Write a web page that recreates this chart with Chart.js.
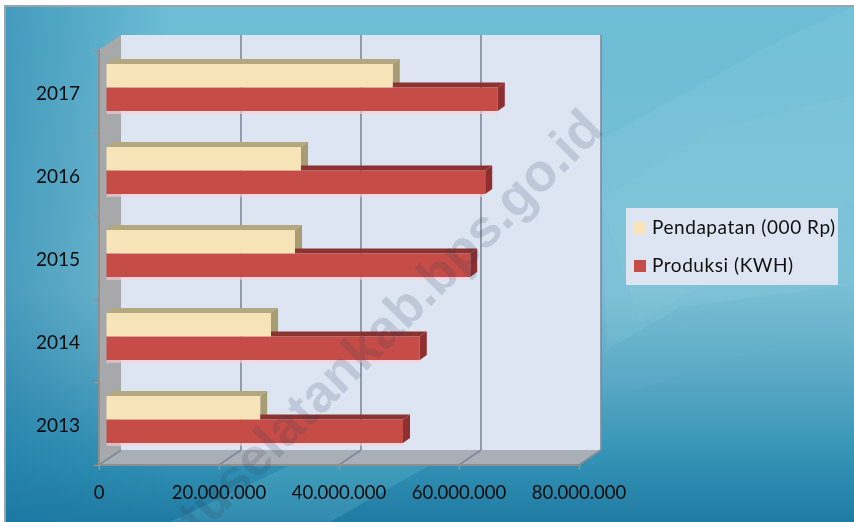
<!DOCTYPE html>
<html>
<head>
<meta charset="utf-8">
<title>Pendapatan dan Produksi</title>
<script src="https://cdn.jsdelivr.net/npm/chart.js@4"></script>
<style>
  html, body { margin: 0; padding: 0; background: #fff; }
  #wrap { position: relative; width: 854px; height: 522px; overflow: hidden; }
</style>
</head>
<body>
<div id="wrap"><canvas id="chart" width="854" height="522"></canvas></div>
<script>
const years = ['2017', '2016', '2015', '2014', '2013'];
const pendapatan = [47800000, 32500000, 31500000, 27500000, 25700000];
const produksi = [65300000, 63200000, 60700000, 52300000, 49500000];
const xTicks = [0, 20000000, 40000000, 60000000, 80000000];
const xTickLabels = ['0', '20.000.000', '40.000.000', '60.000.000', '80.000.000'];
const seriesNames = ['Pendapatan (000 Rp)', 'Produksi (KWH)'];
const watermark = 'tuselatankab.bps.go.id';

const FONT = 'Lato, "Open Sans", sans-serif';

function poly(ctx, pts, fill) {
  ctx.beginPath();
  pts.forEach((p, i) => i ? ctx.lineTo(p[0], p[1]) : ctx.moveTo(p[0], p[1]));
  ctx.closePath();
  ctx.fillStyle = fill;
  ctx.fill();
}

// slide background behind the chart
const slideBg = {
  id: 'slideBg',
  beforeDraw(chart) {
    const { ctx, width: w, height: h } = chart;
    ctx.save();
    ctx.fillStyle = '#fff';
    ctx.fillRect(0, 0, w, h);
    ctx.fillStyle = '#9aa4aa';
    ctx.fillRect(4, 5, w - 4, h - 5);
    ctx.beginPath();
    ctx.rect(6, 7, w - 6, h - 7);
    ctx.clip();
    let g = ctx.createLinearGradient(0, 6, 0, h);
    g.addColorStop(0, '#6cbdd5');
    g.addColorStop(0.55, '#79bfd4');
    g.addColorStop(0.72, '#5aa8c4');
    g.addColorStop(0.88, '#3292b4');
    g.addColorStop(1, '#1f7aa2');
    ctx.fillStyle = g;
    ctx.fillRect(0, 0, w, h);
    g = ctx.createLinearGradient(5, 0, 170, 0);
    g.addColorStop(0, 'rgba(25,120,165,0.5)');
    g.addColorStop(1, 'rgba(25,120,165,0)');
    ctx.fillStyle = g;
    ctx.fillRect(0, 0, 170, h);
    // lighter wedges
    poly(ctx, [[600, 140], [780, 40], [854, 6], [854, 285], [680, 307], [607, 350]], 'rgba(170,225,235,0.12)');
    poly(ctx, [[600, 200], [710, 130], [854, 95], [854, 200], [640, 320]], 'rgba(190,230,235,0.06)');
    poly(ctx, [[603, 400], [853, 320], [854, 260], [603, 350]], 'rgba(120,190,215,0.1)');
    poly(ctx, [[170, 522], [290, 465], [430, 465], [330, 522]], 'rgba(130,210,225,0.2)');
    ctx.restore();
  }
};

// box walls, floor, and the depth faces of the bars
const DEPTH = { x: 22, y: -15 };
const BAR_SHIFT = { x: 7, y: -4 };
const BAR_DEPTH = { x: 7, y: -5 };
const box3d = {
  id: 'box3d',
  beforeDatasetsDraw(chart) {
    const { ctx, chartArea: a, scales: { x } } = chart;
    ctx.save();
    poly(ctx, [[a.left + DEPTH.x, a.top + DEPTH.y], [a.right + DEPTH.x, a.top + DEPTH.y], [a.right + DEPTH.x, a.bottom + DEPTH.y], [a.left + DEPTH.x, a.bottom + DEPTH.y]], '#dde5f3');
    poly(ctx, [[a.left, a.top], [a.left + DEPTH.x, a.top + DEPTH.y], [a.left + DEPTH.x, a.bottom + DEPTH.y], [a.left, a.bottom]], '#a6a8aa');
    poly(ctx, [[a.left, a.bottom], [a.left + DEPTH.x, a.bottom + DEPTH.y], [a.right + DEPTH.x, a.bottom + DEPTH.y], [a.right, a.bottom]], '#a9afb7');

    ctx.strokeStyle = '#7d8a9a';
    ctx.lineWidth = 1.6;
    xTicks.forEach(v => {
      const px = x.getPixelForValue(v);
      ctx.beginPath();
      if (v > 0) {
        ctx.moveTo(px + DEPTH.x, a.top + DEPTH.y);
        ctx.lineTo(px + DEPTH.x, a.bottom + DEPTH.y);
      }
      ctx.moveTo(px + DEPTH.x, a.bottom + DEPTH.y);
      ctx.lineTo(px, a.bottom);
      ctx.stroke();
    });
    ctx.strokeStyle = '#8f8f8f';
    ctx.lineWidth = 2;
    ctx.beginPath();
    ctx.moveTo(a.left, a.top);
    ctx.lineTo(a.left, a.bottom);
    ctx.lineTo(a.right, a.bottom);
    ctx.stroke();

    const faces = [
      { top: '#b3a880', side: '#a89d72' },
      { top: '#8a3330', side: '#8f2f30' }
    ];
    for (let d = 0; d < 2; d++) {
      const els = chart.getDatasetMeta(d).data;
      els.forEach(el => {
        const t = el.y - el.height / 2 + BAR_SHIFT.y;
        const b = el.y + el.height / 2 + BAR_SHIFT.y;
        const l = el.base + BAR_SHIFT.x;
        const r = el.x + BAR_SHIFT.x;
        if (d === 1) {
          ctx.fillStyle = 'rgba(255,205,215,0.6)';
          ctx.fillRect(l, b, r - l, 3);
        }
        poly(ctx, [[l, t], [l + BAR_DEPTH.x, t + BAR_DEPTH.y], [r + BAR_DEPTH.x, t + BAR_DEPTH.y], [r, t]], faces[d].top);
        poly(ctx, [[r, t], [r + BAR_DEPTH.x, t + BAR_DEPTH.y], [r + BAR_DEPTH.x, b + BAR_DEPTH.y], [r, b]], faces[d].side);
      });
    }
    ctx.restore();
    ctx.save();
    ctx.translate(BAR_SHIFT.x, BAR_SHIFT.y);
  },
  afterDatasetsDraw(chart) {
    chart.ctx.restore();
  }
};

// legend box and site watermark
const overlay = {
  id: 'overlay',
  afterDraw(chart) {
    const { ctx } = chart;
    ctx.save();
    ctx.fillStyle = '#dde5f2';
    ctx.fillRect(626, 208, 212, 77);
    ctx.font = '19px ' + FONT;
    ctx.letterSpacing = '0.55px';
    ctx.textBaseline = 'middle';
    chart.data.datasets.forEach((ds, i) => {
      const y = 228 + i * 38;
      ctx.fillStyle = ds.backgroundColor;
      ctx.fillRect(634, y - 6, 12, 12);
      ctx.fillStyle = '#111';
      ctx.fillText(ds.label, 652, y);
    });
    ctx.letterSpacing = '0px';
    ctx.translate(605.5, 131.5);
    ctx.rotate(-Math.PI / 4);
    ctx.textAlign = 'right';
    ctx.textBaseline = 'alphabetic';
    ctx.font = 'bold 53px "Liberation Sans", Arial, sans-serif';
    ctx.fillStyle = 'rgba(50,60,85,0.17)';
    ctx.fillText(watermark, 0, 0);
    ctx.restore();
  }
};

new Chart(document.getElementById('chart'), {
  type: 'bar',
  plugins: [slideBg, box3d, overlay],
  data: {
    labels: years,
    datasets: [
      { label: seriesNames[0], data: pendapatan, backgroundColor: '#f6e3b8' },
      { label: seriesNames[1], data: produksi, backgroundColor: '#c64c48' }
    ]
  },
  options: {
    indexAxis: 'y',
    responsive: false,
    animation: false,
    devicePixelRatio: 1,
    layout: { padding: { top: 50, right: 275, bottom: 0, left: 0 } },
    datasets: { bar: { categoryPercentage: 0.566, barPercentage: 1 } },
    plugins: { legend: { display: false }, tooltip: { enabled: false } },
    scales: {
      x: {
        min: 0,
        max: 80000000,
        afterFit(scale) { scale.height = 57; },
        afterBuildTicks(scale) { scale.ticks = xTicks.map(v => ({ value: v })); },
        grid: { drawOnChartArea: false, tickLength: 5, color: '#a08f8c', tickWidth: 1.5 },
        border: { display: false },
        ticks: {
          autoSkip: false,
          maxRotation: 0,
          padding: 12,
          color: '#0b0b0b',
          font: { family: FONT, size: 18.5 },
          callback(value, i) { return xTickLabels[i]; }
        }
      },
      y: {
        afterFit(scale) { scale.width = 99; },
        grid: { drawOnChartArea: false, tickLength: 5, color: '#a08f8c', tickWidth: 1.5 },
        border: { display: false },
        ticks: {
          padding: 14,
          labelOffset: 2,
          color: '#0b0b0b',
          font: { family: FONT, size: 19 }
        }
      }
    }
  }
});
</script>
</body>
</html>
